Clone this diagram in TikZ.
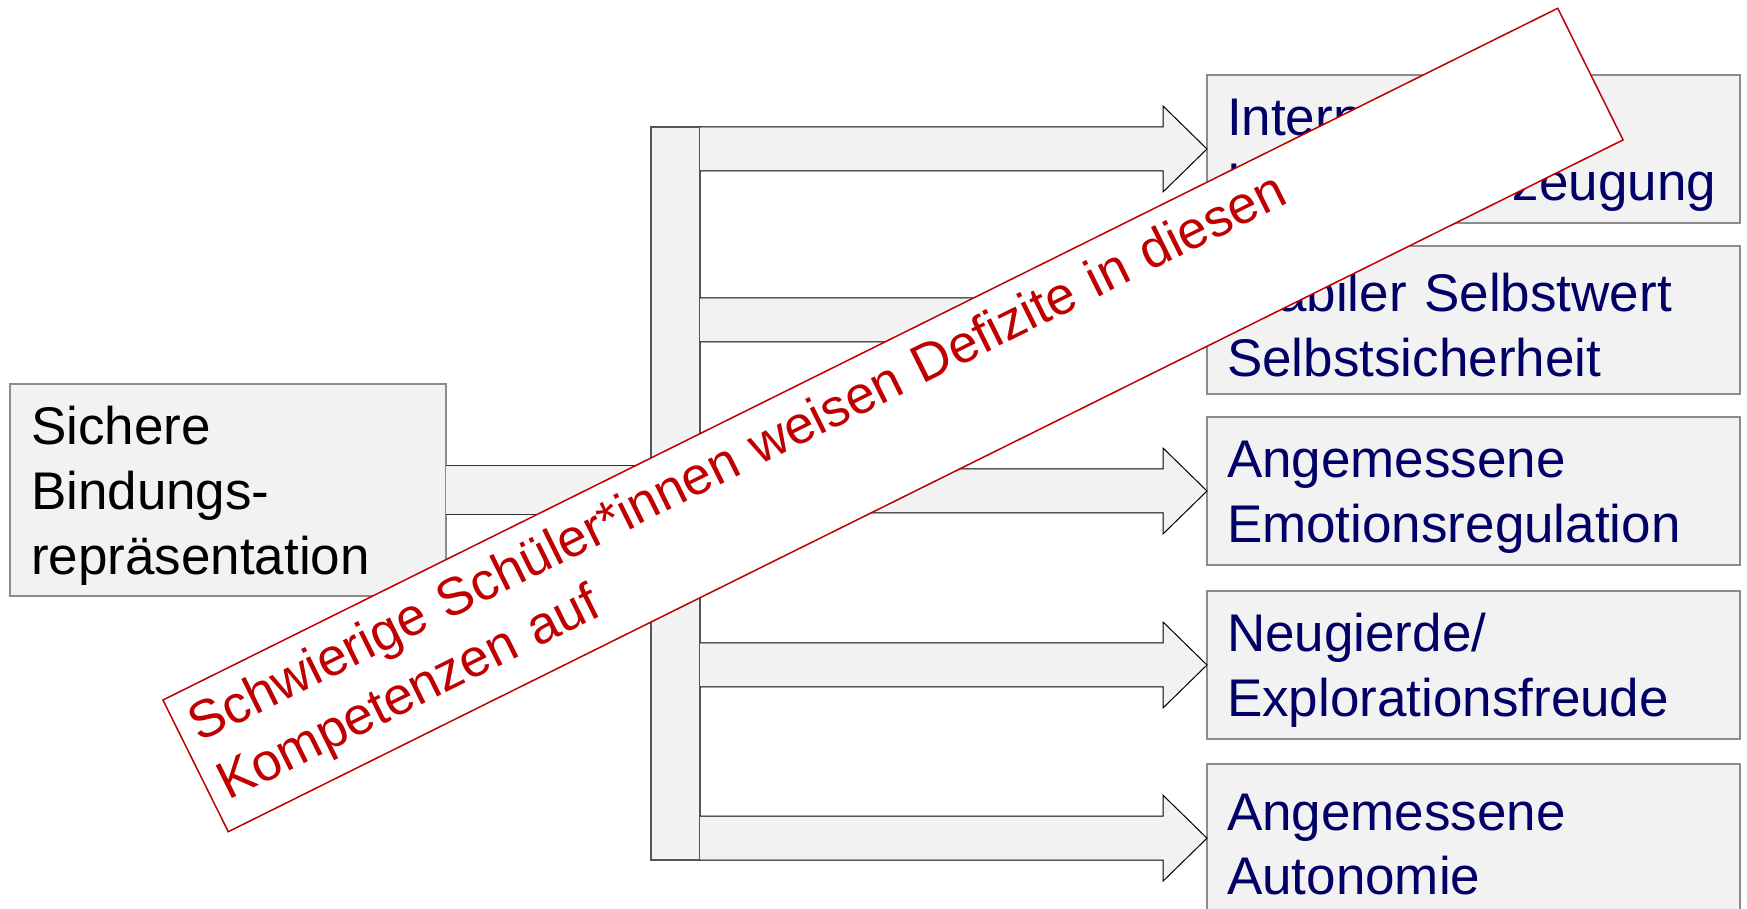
\documentclass[tikz,border=0pt]{standalone}
\usepackage{fontspec}
\setmainfont{Liberation Sans}
\usetikzlibrary{calc}
\definecolor{boxfill}{HTML}{F2F2F2}
\definecolor{boxline}{HTML}{8C8C8C}
\definecolor{bargray}{HTML}{555555}
\definecolor{navytext}{RGB}{0,0,102}
\definecolor{bannerred}{HTML}{C00000}
\begin{document}
\begin{tikzpicture}[x=1pt,y=1pt,
  bigtext/.style={font=\fontsize{53}{64.6}\selectfont},
  srcbox/.style={draw=boxline, line width=1.5pt, fill=boxfill, anchor=north west, align=left,
    inner xsep=21pt, inner ysep=0pt, text width=394pt, minimum height=212pt, outer sep=0pt, bigtext,
    execute at begin node={\rule{0pt}{50pt}}},
  goalbox/.style={draw=boxline, line width=1.5pt, fill=boxfill, anchor=north west, align=left,
    inner xsep=20pt, inner ysep=0pt, text width=493pt, minimum height=148pt, outer sep=0pt,
    bigtext, text=navytext, execute at begin node={\rule{0pt}{49pt}}},
  barbox/.style={draw=bargray, line width=1.2pt, fill=boxfill, anchor=north west,
    minimum width=49pt, minimum height=733pt, inner sep=0pt, outer sep=0pt},
  arrowline/.style={draw=black, line width=1pt, line join=miter},
  connline/.style={draw=bargray!60!black, line width=1.2pt},
  banner/.style={draw=bannerred, line width=1.5pt, fill=white, text=bannerred, rotate=26.38,
    minimum width=1557pt, minimum height=147pt, text width=1529pt, inner xsep=14pt,
    inner ysep=0pt, align=left, outer sep=0pt, bigtext}
]
\useasboundingbox (0,0) rectangle (1747,909);

% source box
\node[srcbox] (src) at (10,525) {Sichere\\Bindungs-\\repräsentation};

% vertical bar
\node[barbox] (bar) at (651,782) {};

% connector from source to bar
\fill[boxfill] ($(src.east)+(0,24.5)$) rectangle ($(bar.west|-src.east)+(0,-24.5)$);
\draw[connline] ($(src.east)+(0,24.5)$) -- ($(bar.west|-src.east)+(0,24.5)$);
\draw[connline] ($(src.east)+(0,-24.5)$) -- ($(bar.west|-src.east)+(0,-24.5)$);

% goal boxes
\node[goalbox] (b1) at (1207,834)   {Interne\\Kontrollüberzeugung};
\node[goalbox] (b2) at (1207,663)   {Stabiler Selbstwert\\Selbstsicherheit};
\node[goalbox] (b3) at (1207,492)   {Angemessene\\Emotionsregulation};
\node[goalbox] (b4) at (1207,318)   {Neugierde/\\Explorationsfreude};
\node[goalbox] (b5) at (1207,144.8) {Angemessene\\Autonomie};

% block arrows
\foreach \b in {b1,b2,b3,b4,b5}{
  \fill[boxfill] ($(bar.east|-\b.west)+(0,22)$) -- ($(\b.west)+(-44,22)$) -- ($(\b.west)+(-44,43)$)
    -- (\b.west) -- ($(\b.west)+(-44,-43)$) -- ($(\b.west)+(-44,-22)$)
    -- ($(bar.east|-\b.west)+(0,-22)$) -- cycle;
  \draw[arrowline] ($(bar.east|-\b.west)+(0,22)$) -- ($(\b.west)+(-44,22)$) -- ($(\b.west)+(-44,43)$)
    -- (\b.west) -- ($(\b.west)+(-44,-43)$) -- ($(\b.west)+(-44,-22)$)
    -- ($(bar.east|-\b.west)+(0,-22)$);
}

% banner
\node[banner] (banner) at (893,489) {Schwierige Schüler*innen weisen Defizite in diesen\\Kompetenzen auf};
\end{tikzpicture}
\end{document}
